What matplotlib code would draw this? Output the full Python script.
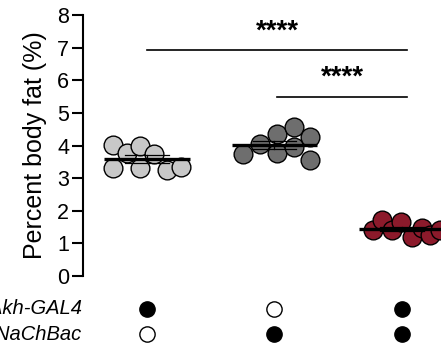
import matplotlib

matplotlib.use("Agg")

import matplotlib.pyplot as plt
import numpy as np

plt.rcParams["font.family"] = ["Liberation Sans", "DejaVu Sans"]

# percent body fat per fly, one list per genotype
fat_ctrl_gal4 = [4.02, 3.76, 3.99, 3.73, 3.30, 3.30, 3.25, 3.35]
fat_ctrl_uas = [3.74, 4.04, 4.36, 4.56, 3.76, 3.95, 4.25, 3.56]
fat_akh_nachbac = [1.41, 1.72, 1.41, 1.67, 1.21, 1.46, 1.26, 1.41]

# genotype table: 1 = transgene present
akh_gal4 = [1, 0, 1]
uas_nachbac = [0, 1, 1]
row_labels = ["Akh-GAL4", "UAS-NaChBac"]

# significance brackets: (from group, to group, height, label)
brackets = [(0, 2.04, 6.92, "****"), (1.02, 2.04, 5.5, "****")]

# horizontal swarm offsets for each point (x units)
swarm_dx = [
    [-0.27, -0.16, -0.055, 0.055, -0.27, -0.055, 0.155, 0.27],
    [-0.25, -0.11, 0.02, 0.15, 0.02, 0.15, 0.28, 0.28],
    [-0.23, -0.16, -0.08, -0.01, 0.08, 0.155, 0.22, 0.30],
]

colors = ["#c8c8c8", "#6e6e6e", "#8c1a2b"]


def main() -> None:
    fig = plt.figure(figsize=(4.41, 3.5), dpi=100)
    ax = fig.add_axes([83 / 441, 74 / 350, 358 / 441, 261 / 350])

    groups = [fat_ctrl_gal4, fat_ctrl_uas, fat_akh_nachbac]
    for i, (vals, dx, c) in enumerate(zip(groups, swarm_dx, colors)):
        vals = np.asarray(vals)
        xs = i + np.asarray(dx)
        ax.scatter(xs, vals, s=13.5**2, c=c, edgecolors="black",
                   linewidths=1.0, zorder=3, clip_on=False)
        m = vals.mean()
        sem = vals.std(ddof=1) / np.sqrt(len(vals))
        ax.plot([i - 0.335, i + 0.335], [m, m], color="black", lw=2.4,
                zorder=4, clip_on=False, solid_capstyle="butt")
        ax.plot([i - 0.17, i + 0.17], [m - sem, m - sem], color="black",
                lw=0.9, zorder=4, clip_on=False)
        ax.plot([i - 0.17, i + 0.17], [m + sem, m + sem], color="black",
                lw=0.9, zorder=4, clip_on=False)
        ax.plot([i, i], [m - sem, m + sem], color="black", lw=0.9,
                zorder=4, clip_on=False)

    for x0, x1, h, txt in brackets:
        ax.plot([x0, x1], [h, h], color="black", lw=1.2, clip_on=False)
        ax.text((x0 + x1) / 2, h + 0.18, txt, ha="center", va="bottom",
                fontsize=20, fontweight="bold")

    # genotype rows underneath the axis
    for row, (flags, y) in enumerate(zip([akh_gal4, uas_nachbac], [-1.01, -1.78])):
        for i, f in enumerate(flags):
            ax.plot(i, y, "o", ms=11, mfc="black" if f else "white",
                    mec="black", mew=1.0, clip_on=False)
        ax.text(-0.51, y, row_labels[row], ha="right", va="center",
                fontsize=14.5, style="italic", transform=ax.transData)

    ax.set_xlim(-0.502, 2.306)
    ax.set_ylim(0, 8)
    ax.set_yticks(range(9))
    ax.set_xticks([])
    ax.set_ylabel("Percent body fat (%)", fontsize=18, labelpad=7)
    ax.tick_params(axis="y", labelsize=15.5, width=1.5, length=8, pad=2)
    for side in ["top", "right", "bottom"]:
        ax.spines[side].set_visible(False)
    ax.spines["left"].set_linewidth(1.5)

    fig.savefig("out.png", dpi=100)


if __name__ == "__main__":
    main()
